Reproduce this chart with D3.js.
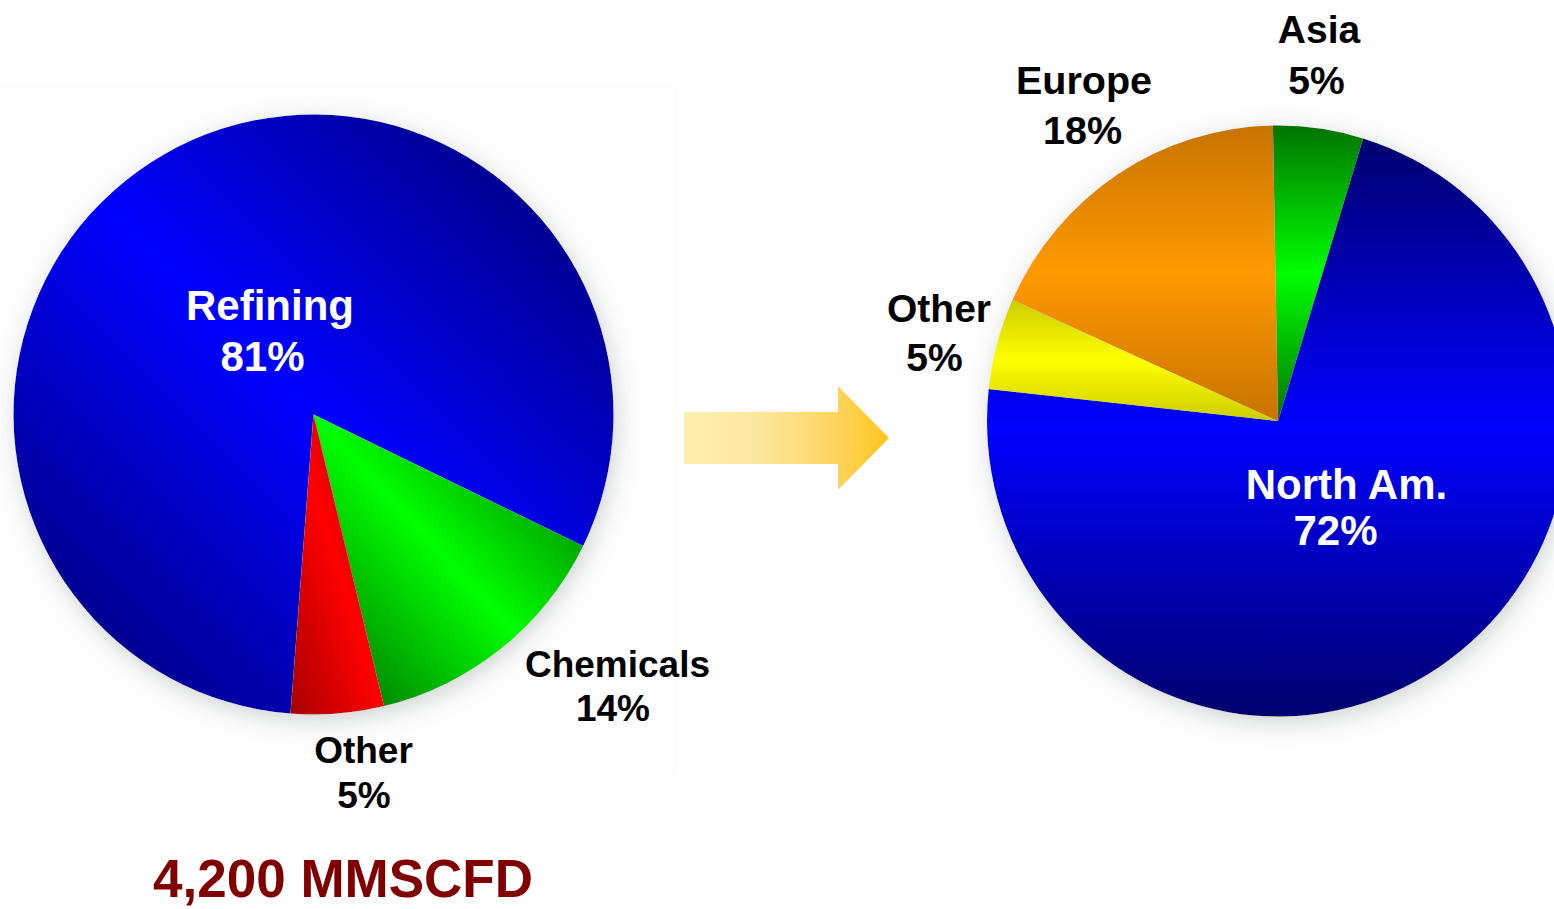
<!DOCTYPE html>
<html>
<head>
<meta charset="utf-8">
<script src="https://cdn.jsdelivr.net/npm/d3@7"></script>
<style>
  html, body { margin: 0; padding: 0; background: #ffffff; }
  svg { display: block; }
  text { font-family: 'Liberation Sans', Arial, sans-serif; font-weight: bold; }
</style>
</head>
<body>
<script>
// ---------------- data ----------------
const leftCategories = ["Refining", "Chemicals", "Other"];
const leftValues = [81, 14, 5];
const rightCategories = ["Asia", "North Am.", "Other", "Europe"];
const rightValues = [5, 72, 5, 18];
const totalLabel = "4,200 MMSCFD";

// ---------------- styles / layout ----------------
const W = 1554, H = 909;
const leftColors = [
  { dark: "#000068", bright: "#0000ff" },
  { dark: "#006400", bright: "#00ff00" },
  { dark: "#a80000", bright: "#ff0000" }
];
const rightColors = [
  { dark: "#007400", bright: "#00ff00" },
  { dark: "#00006e", bright: "#0000ff" },
  { dark: "#cccc00", bright: "#ffff00" },
  { dark: "#c77300", bright: "#ff9a00" }
];
const leftPie = { cx: 313.5, cy: 414.5, r: 300, sx: 1, startDeg: 184.4 };
const rightPie = { cx: 1278, cy: 421, r: 295.5, sx: 291 / 295.5, startDeg: -1 };
const leftLabelLayout = [
  { x1: 270, x2: 262.5, y: 320, dy: 51, size: 42, fill: "#ffffff" },
  { x1: 617.5, x2: 613, y: 677, dy: 44, size: 37, fill: "#000000" },
  { x1: 363.5, x2: 364, y: 763, dy: 45, size: 37, fill: "#000000" }
];
const rightLabelLayout = [
  { x1: 1319, x2: 1316.5, y: 43, dy: 51, size: 39, fill: "#000000" },
  { x1: 1346.5, x2: 1335.5, y: 499, dy: 46, size: 42, fill: "#ffffff" },
  { x1: 939, x2: 934.5, y: 322, dy: 49, size: 39, fill: "#000000" },
  { x1: 1084, x2: 1082.5, y: 94, dy: 50, size: 39.5, fill: "#000000" }
];

const svg = d3.select("body").append("svg").attr("width", W).attr("height", H);
const defs = svg.append("defs");

// faint background panels
svg.append("rect").attr("x", 0).attr("y", 85).attr("width", 677).attr("height", 690).attr("fill", "#fdfdfd");
svg.append("rect").attr("x", 944).attr("y", 64).attr("width", W - 944).attr("height", 729).attr("fill", "#fdfdfd");

// shadow filter
const f = defs.append("filter").attr("id", "shadow")
  .attr("x", "-20%").attr("y", "-20%").attr("width", "140%").attr("height", "140%");
f.append("feGaussianBlur").attr("in", "SourceAlpha").attr("stdDeviation", 11).attr("result", "blur");
f.append("feOffset").attr("in", "blur").attr("dx", 3).attr("dy", 6).attr("result", "off");
f.append("feFlood").attr("flood-color", "#9aa0a0").attr("flood-opacity", 0.45).attr("result", "col");
f.append("feComposite").attr("in", "col").attr("in2", "off").attr("operator", "in").attr("result", "sh");
const fm = f.append("feMerge");
fm.append("feMergeNode").attr("in", "sh");
fm.append("feMergeNode").attr("in", "SourceGraphic");

function makeGrad(id, c, x1, y1, x2, y2) {
  const g = defs.append("linearGradient").attr("id", id)
    .attr("x1", x1).attr("y1", y1).attr("x2", x2).attr("y2", y2);
  g.append("stop").attr("offset", "0").attr("stop-color", c.dark);
  g.append("stop").attr("offset", "0.5").attr("stop-color", c.bright);
  g.append("stop").attr("offset", "1").attr("stop-color", c.dark);
}

function drawPie(cfg, cats, vals, colors, gradDir, prefix, layout) {
  const rad = cfg.startDeg * Math.PI / 180;
  const pie = d3.pie().sort(null).value(d => d.v)
    .startAngle(rad).endAngle(rad + 2 * Math.PI);
  const arc = d3.arc().innerRadius(0).outerRadius(cfg.r);
  const data = cats.map((c, i) => ({ c, v: vals[i], i }));
  colors.forEach((c, i) => makeGrad(prefix + i, c, ...gradDir));
  const g = svg.append("g")
    .attr("transform", `translate(${cfg.cx},${cfg.cy}) scale(${cfg.sx},1)`)
    .attr("filter", "url(#shadow)");
  g.selectAll("path").data(pie(data)).join("path")
    .attr("d", arc)
    .attr("fill", d => `url(#${prefix}${d.data.i})`);

  const lg = svg.append("g");
  data.forEach((d, i) => {
    const L = layout[i];
    lg.append("text").attr("x", L.x1).attr("y", L.y).attr("text-anchor", "middle")
      .attr("font-size", L.size).attr("fill", L.fill).text(d.c);
    lg.append("text").attr("x", L.x2).attr("y", L.y + L.dy).attr("text-anchor", "middle")
      .attr("font-size", L.size).attr("fill", L.fill).text(d.v + "%");
  });
}

drawPie(leftPie, leftCategories, leftValues, leftColors, [1, 0, 0, 1], "lg", leftLabelLayout);
drawPie(rightPie, rightCategories, rightValues, rightColors, [0, 0, 0, 1], "rg", rightLabelLayout);

// arrow
const ag = defs.append("linearGradient").attr("id", "arrowGrad")
  .attr("gradientUnits", "userSpaceOnUse").attr("x1", 684).attr("y1", 0).attr("x2", 889).attr("y2", 0);
[["0", "#feeeb0"], ["0.35", "#fde8a0"], ["0.7", "#fdd668"], ["1", "#fdc61a"]]
  .forEach(s => ag.append("stop").attr("offset", s[0]).attr("stop-color", s[1]));
const ap = d3.path();
ap.moveTo(684, 412); ap.lineTo(838, 412); ap.lineTo(838, 386); ap.lineTo(889, 438);
ap.lineTo(838, 490); ap.lineTo(838, 464); ap.lineTo(684, 464); ap.closePath();
svg.append("path").attr("d", ap.toString()).attr("fill", "url(#arrowGrad)");

// total label
svg.append("text").attr("x", 343).attr("y", 897).attr("text-anchor", "middle")
  .attr("font-size", 53).attr("fill", "#800000").text(totalLabel);
</script>
</body>
</html>
